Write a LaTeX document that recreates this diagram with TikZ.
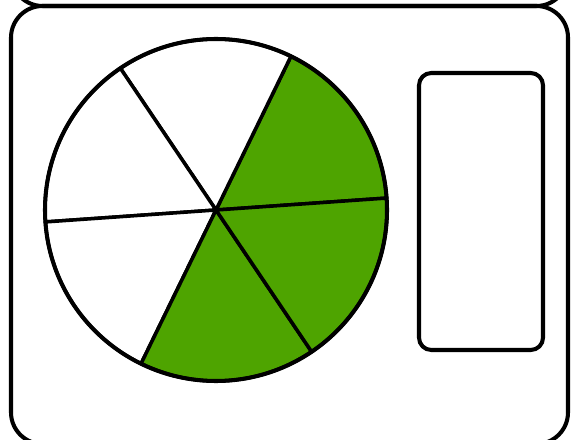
\documentclass[tikz,border=0pt]{standalone}
\usepackage{tikz}
\definecolor{leafgreen}{RGB}{78,164,0}

\begin{document}
\begin{tikzpicture}[x=0.02cm, y=0.02cm,
  casing/.style={draw, line width=2.3pt, rounded corners=18pt},
  slice/.style={draw, line width=2pt, line join=round},
  rim/.style={draw, line width=2.3pt},
  screen/.style={draw, line width=2.3pt, rounded corners=7pt}
]
  \useasboundingbox (0,0) rectangle (573,439);
  \clip (0,0) rectangle (573,439);

  % Casing
  \draw[casing] (11,433) rectangle (568,560);
  \draw[casing] (11,-5) rectangle (568,433);

  % Pie
  \coordinate (pie) at (216,229);
  \foreach \a/\col in {4/leafgreen, 64/white, 124/white,
                       184/white, 244/leafgreen, 304/leafgreen}
    \filldraw[slice, fill=\col] (pie) -- ++(\a:171)
      arc[start angle=\a, end angle=\a+60, radius=171] -- cycle;
  \draw[rim] (pie) circle[radius=171];

  % Display
  \draw[screen] (419,89) rectangle (543,366);
\end{tikzpicture}
\end{document}
